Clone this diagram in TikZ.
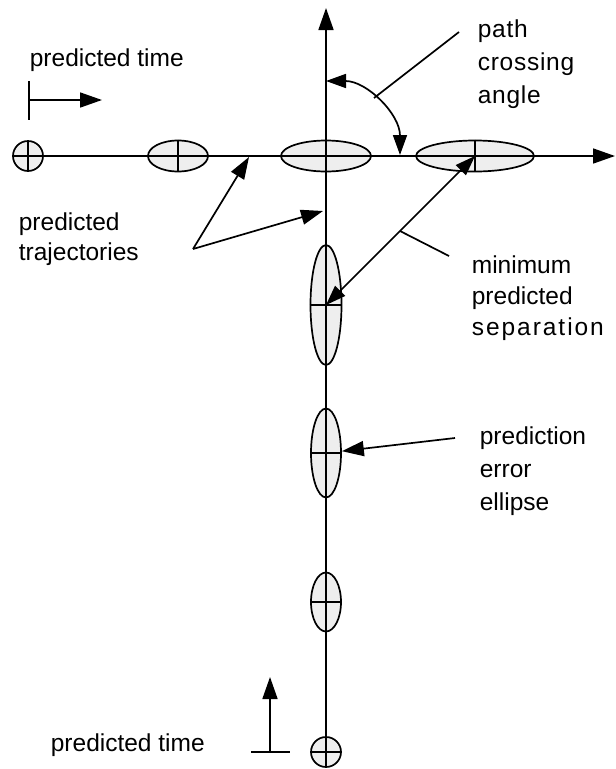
\documentclass[tikz,border=0pt]{standalone}
\usepackage{fontspec}
\setmainfont{Liberation Sans}
\usetikzlibrary{arrows.meta,shapes.geometric}
\begin{document}
\begin{tikzpicture}[x=1pt,y=-1pt, line width=1.7pt,
  tip/.style={-{Triangle[length=22pt,width=15pt]}},
  dtip/.style={{Triangle[length=20pt,width=14pt]}-{Triangle[length=20pt,width=14pt]}},
  ell/.style={ellipse, draw, fill=gray!13, inner sep=0pt},
  lbl/.style={font=\fontsize{24.5}{33}\selectfont, inner sep=0pt, align=left, anchor=base west}]
\useasboundingbox (0,0) rectangle (616,769);

% ellipses
\node[ell, minimum width=30pt, minimum height=30pt] (c0) at (28,156) {};
\node[ell, minimum width=60pt, minimum height=31pt] (e1) at (178,156) {};
\node[ell, minimum width=90pt, minimum height=31pt] (e2) at (326,156) {};
\node[ell, minimum width=118pt, minimum height=31pt] (e3) at (475,156) {};
\node[ell, minimum width=31pt, minimum height=120pt] (v1) at (326,305) {};
\node[ell, minimum width=30pt, minimum height=89pt] (v2) at (326,453) {};
\node[ell, minimum width=30pt, minimum height=59pt] (v3) at (326,602) {};
\node[ell, minimum width=30pt, minimum height=30pt] (c1) at (326,752) {};

% axes
\coordinate (hend) at (615,156);
\coordinate (vend) at (326,8);
\draw[tip] (c0.west) -- (hend);
\draw[tip] (c1.south) -- (vend);

% crosses
\draw (c0.north) -- (c0.south);
\draw (e1.north) -- (e1.south);
\draw (e3.north) -- (e3.south);
\draw (v1.west) -- (v1.east);
\draw (v2.west) -- (v2.east);
\draw (v3.west) -- (v3.east);
\draw (c1.west) -- (c1.east);

% crossing angle
\coordinate (a1) at (326,81);
\coordinate (ap) at (374,98);
\coordinate (al) at (459,32);
\draw[dtip] (a1) arc[start angle=-90, end angle=0, radius=74];
\draw (ap) -- (al);

% predicted time (top)
\coordinate (t1a) at (29,81);
\coordinate (t1b) at (29,120);
\coordinate (t1c) at (29,100);
\coordinate (t1d) at (102,100);
\draw (t1a) -- (t1b);
\draw[tip] (t1c) -- (t1d);

% predicted time (bottom)
\coordinate (t2a) at (251,752);
\coordinate (t2b) at (290,752);
\coordinate (t2c) at (270,752);
\coordinate (t2d) at (270,677);
\draw (t2a) -- (t2b);
\draw[tip] (t2c) -- (t2d);

% predicted trajectories
\coordinate (pv) at (193,249);
\coordinate (pt1) at (249,157);
\coordinate (pt2) at (323,211);
\draw[tip] (pv) -- (pt1);
\draw[tip] (pv) -- (pt2);

% minimum predicted separation
\draw[dtip] (e3.center) -- (v1.center);
\coordinate (ms1) at (400,231);
\coordinate (ms2) at (449,256);
\draw (ms1) -- (ms2);

% prediction error ellipse
\coordinate (pe) at (455,438);
\draw[tip] (pe) -- (v2);

% labels (base anchor = baseline of last line)
\node[lbl] (lt1) at (29,66) {predicted time};
\node[lbl] (lt2) at (50,751) {predicted time};
\node[lbl, font=\fontsize{24.5}{33}\selectfont\addfontfeature{LetterSpace=3}] (lang) at (477,103) {path\\crossing\\angle};
\node[lbl, font=\fontsize{24.5}{30}\selectfont] (ltr) at (18,260) {predicted\\trajectories};
\node[lbl, font=\fontsize{24.5}{31}\selectfont] (lms) at (471,335) {minimum\\predicted\\{\addfontfeature{LetterSpace=8}separation}};
\node[lbl] (lpe) at (479,510) {prediction\\error\\ellipse};
\end{tikzpicture}
\end{document}
